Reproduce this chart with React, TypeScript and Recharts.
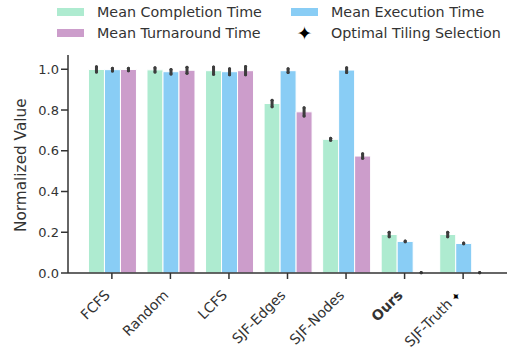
import { Bar, BarChart, ErrorBar, Legend, XAxis, YAxis } from "recharts";

const categories = ["FCFS", "Random", "LCFS", "SJF-Edges", "SJF-Nodes", "Ours", "SJF-Truth"];
const completion = [0.999, 0.997, 0.993, 0.832, 0.656, 0.189, 0.189];
const completionErr = [0.013, 0.011, 0.018, 0.016, 0.005, 0.011, 0.011];
const execution = [0.998, 0.988, 0.988, 0.993, 0.996, 0.155, 0.145];
const executionErr = [0.007, 0.011, 0.015, 0.009, 0.012, 0.002, 0.002];
const turnaround = [0.999, 0.995, 0.993, 0.791, 0.574, 0.002, 0.002];
const turnaroundErr = [0.006, 0.015, 0.02, 0.02, 0.011, 0.001, 0.001];
const yTicks = [0, 0.2, 0.4, 0.6, 0.8, 1.0];

const colors = { completion: "#aeebd0", execution: "#89cdf5", turnaround: "#cc9dcb" };
const font = "DejaVu Sans, sans-serif";
const ink = "#333333";
const errColor = "#3d3d3d";

const data = categories.map((name, i) => ({
  name,
  completion: completion[i],
  completionErr: completionErr[i],
  execution: execution[i],
  executionErr: executionErr[i],
  turnaround: turnaround[i],
  turnaroundErr: turnaroundErr[i],
}));

function XTick({ x, y, payload }: any) {
  const label = payload.value as string;
  return (
    <g transform={`translate(${x - 1},${y + 15})`}>
      <text
        transform="rotate(-45)"
        textAnchor="end"
        fontSize={14}
        fontFamily={font}
        fill={ink}
        fontWeight={label === "Ours" ? "bold" : "normal"}
      >
        {label}
        {label === "SJF-Truth" ? <tspan fontSize={11} fill="#000"> ✦</tspan> : null}
      </text>
    </g>
  );
}

function LegendBox() {
  const item = (left: number, top: number, swatch: string | null, text: string) => (
    <div style={{ position: "absolute", left, top, display: "flex", alignItems: "center", height: 20 }}>
      {swatch ? (
        <span style={{ display: "inline-block", width: 27, height: 8, background: swatch }} />
      ) : (
        <span style={{ display: "inline-block", width: 27, textAlign: "center", fontSize: 19, lineHeight: "20px", color: "#000" }}>✦</span>
      )}
      <span style={{ marginLeft: 13, fontSize: 14.3, color: ink, fontFamily: font, whiteSpace: "nowrap" }}>{text}</span>
    </div>
  );
  return (
    <div style={{ position: "relative", width: 510, height: 45, fontFamily: font }}>
      {item(57, 2, colors.completion, "Mean Completion Time")}
      {item(57, 23, colors.turnaround, "Mean Turnaround Time")}
      {item(291, 2, colors.execution, "Mean Execution Time")}
      {item(291, 23, null, "Optimal Tiling Selection")}
    </div>
  );
}

export default function App() {
  return (
    <div style={{ position: "absolute", left: 0, top: 0, width: 510, height: 351, background: "#fff" }}>
      <BarChart
        width={510}
        height={351}
        data={data}
        margin={{ top: 55, right: 3, bottom: 0, left: 8 }}
        barCategoryGap="10%"
        barGap={0}
      >
        <Legend
          layout="horizontal"
          verticalAlign="middle"
          align="center"
          wrapperStyle={{ top: 0, left: 0, width: 510 }}
          content={() => <LegendBox />}
        />
        <XAxis
          dataKey="name"
          height={78}
          interval={0}
          padding={{ left: 14.6, right: 14.6 }}
          stroke={ink}
          strokeWidth={1.5}
          tickSize={6}
          tickLine={{ stroke: ink, strokeWidth: 1.5 }}
          tick={<XTick />}
        />
        <YAxis
          width={60}
          domain={[0, 1.07]}
          ticks={yTicks}
          tickFormatter={(v: number) => v.toFixed(1)}
          stroke={ink}
          strokeWidth={1.5}
          tickSize={7}
          tickLine={{ stroke: ink, strokeWidth: 1.5 }}
          tick={{ fontSize: 13, fontFamily: font, fill: ink }}
          label={{
            value: "Normalized Value",
            angle: -90,
            position: "insideLeft",
            dx: 8,
            dy: 68,
            style: { fontSize: 15.3, fontFamily: font, fill: ink },
          }}
        />
        <Bar dataKey="completion" fill={colors.completion} stroke="#fff" strokeWidth={1} isAnimationActive={false}>
          <ErrorBar dataKey="completionErr" width={0} strokeWidth={3} stroke={errColor} strokeLinecap="round" />
        </Bar>
        <Bar dataKey="execution" fill={colors.execution} stroke="#fff" strokeWidth={1} isAnimationActive={false}>
          <ErrorBar dataKey="executionErr" width={0} strokeWidth={3} stroke={errColor} strokeLinecap="round" />
        </Bar>
        <Bar dataKey="turnaround" fill={colors.turnaround} stroke="#fff" strokeWidth={1} isAnimationActive={false}>
          <ErrorBar dataKey="turnaroundErr" width={0} strokeWidth={3} stroke={errColor} strokeLinecap="round" />
        </Bar>
      </BarChart>
    </div>
  );
}
